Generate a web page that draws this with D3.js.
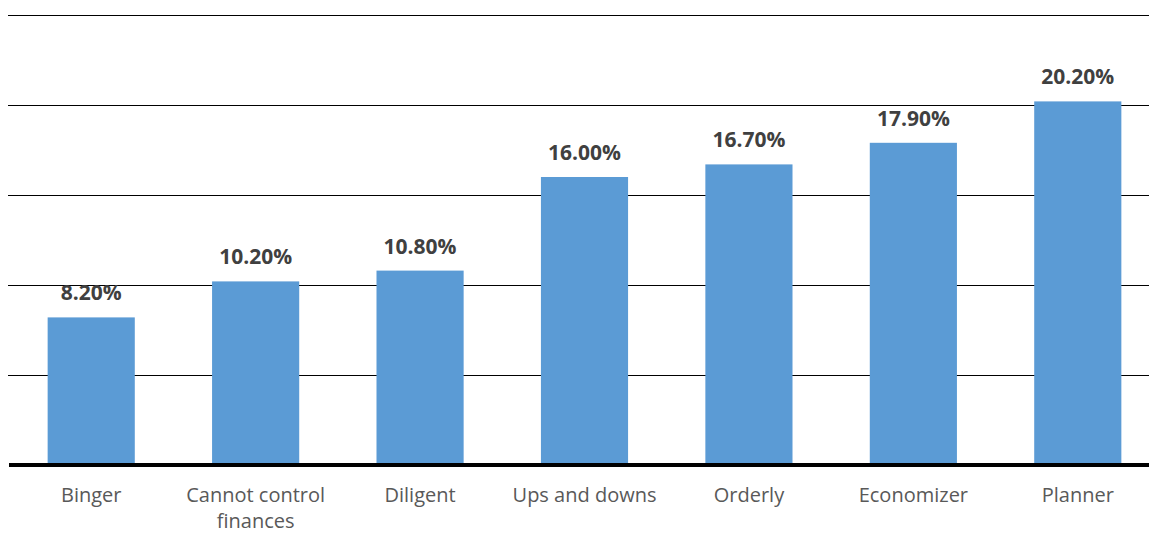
<!DOCTYPE html>
<html>
<head>
<meta charset="utf-8">
<script src="https://cdn.jsdelivr.net/npm/d3@7"></script>
<style>
    html, body { margin: 0; padding: 0; background: #fff; }
    svg { display: block; }
</style>
</head>
<body>
<div id="chart"></div>
<script>
// Chart data
const categories = [
    "Binger",
    "Cannot control finances",
    "Diligent",
    "Ups and downs",
    "Orderly",
    "Economizer",
    "Planner",
];
const shares = [8.2, 10.2, 10.8, 16.0, 16.7, 17.9, 20.2];
const gridTicks = [5, 10, 15, 20, 25];

const width = 1149;
const height = 535;

const svg = d3
    .select("#chart")
    .append("svg")
    .attr("width", width)
    .attr("height", height);

// Scales (plot area runs a little past the right edge, as in the original)
const x = d3
    .scaleBand()
    .domain(categories)
    .range([9, 1160])
    .paddingInner(0.47)
    .paddingOuter(0.235);

const y = d3.scaleLinear().domain([0, 25]).range([465, 15]);

// Horizontal gridlines
const grid = svg
    .append("g")
    .attr("transform", "translate(8,0)")
    .call(
        d3.axisLeft(y)
            .tickValues(gridTicks)
            .tickSize(-(width - 8))
            .tickFormat("")
    );
grid.select(".domain").remove();
grid.selectAll(".tick line").attr("stroke", "#000").attr("stroke-width", 1.2);

// Bars
svg
    .selectAll("rect.bar")
    .data(shares)
    .enter()
    .append("rect")
    .attr("class", "bar")
    .attr("x", (d, i) => x(categories[i]))
    .attr("y", (d) => y(d))
    .attr("width", x.bandwidth())
    .attr("height", (d) => y(0) - y(d))
    .attr("fill", "#5B9BD5");

// Value labels
svg
    .selectAll("text.value")
    .data(shares)
    .enter()
    .append("text")
    .attr("class", "value")
    .attr("x", (d, i) => x(categories[i]) + x.bandwidth() / 2)
    .attr("y", (d) => y(d) - 17)
    .attr("text-anchor", "middle")
    .style("font-family", "'Open Sans', sans-serif")
    .style("font-weight", "bold")
    .style("font-size", "21px")
    .style("fill", "#404040")
    .text((d) => d.toFixed(2) + "%");

// Baseline (x axis)
const xAxis = svg
    .append("g")
    .attr("transform", `translate(0,${y(0)})`)
    .call(d3.axisBottom(x).tickSize(0).tickPadding(0));
xAxis.select(".domain").attr("stroke", "#000").attr("stroke-width", 4)
    .attr("d", `M9,0H${width}`);

// Category labels, wrapped when wider than a band step
xAxis
    .selectAll(".tick text")
    .attr("y", 37)
    .attr("dy", 0)
    .style("font-family", "'Open Sans', sans-serif")
    .style("font-size", "20px")
    .style("fill", "#595959")
    .each(function () {
        const text = d3.select(this);
        const words = text.text().split(" ");
        const maxWidth = x.step() * 0.95;
        text.text(null);
        let line = [];
        let tspan = text.append("tspan").attr("x", 0).attr("dy", 0);
        words.forEach((word) => {
            line.push(word);
            tspan.text(line.join(" "));
            if (tspan.node().getComputedTextLength() > maxWidth && line.length > 1) {
                line.pop();
                tspan.text(line.join(" "));
                line = [word];
                tspan = text.append("tspan").attr("x", 0).attr("dy", 26).text(word);
            }
        });
    });
</script>
</body>
</html>
